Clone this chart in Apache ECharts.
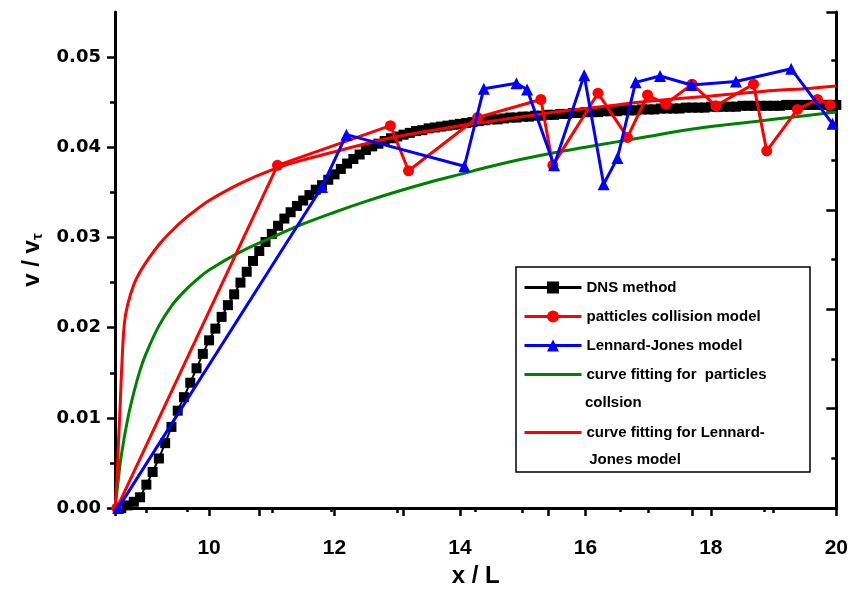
<!DOCTYPE html>
<html><head><meta charset="utf-8">
<script src="https://cdn.jsdelivr.net/npm/echarts@6/dist/echarts.min.js"></script>
<style>html,body{margin:0;padding:0;background:#fff}#c{width:851px;height:593px}</style>
</head><body><div id="c"></div>
<script>
// ---- tick values ----
const xTicks = [10, 12, 14, 16, 18, 20];
const xMinorTicks = [9, 11, 13, 15, 17, 19];
const yTicks = [0, 0.01, 0.02, 0.03, 0.04, 0.05];
const yMinorTicks = [0.005, 0.015, 0.025, 0.035, 0.045];

// ---- DNS method ----
const dnsX = [8.6,8.7,8.8,8.9,9.0,9.1,9.2,9.3,9.4,9.5,
  9.6,9.7,9.8,9.9,10.0,10.1,10.2,10.3,10.4,10.5,
  10.6,10.7,10.8,10.9,11.0,11.1,11.2,11.3,11.4,11.5,
  11.6,11.7,11.8,11.9,12.0,12.1,12.2,12.3,12.4,12.5,
  12.6,12.7,12.8,12.9,13.0,13.1,13.2,13.3,13.4,13.5,
  13.6,13.7,13.8,13.9,14.0,14.1,14.2,14.3,14.4,14.5,
  14.6,14.7,14.8,14.9,15.0,15.1,15.2,15.3,15.4,15.5,
  15.6,15.7,15.8,15.9,16.0,16.1,16.2,16.3,16.4,16.5,
  16.6,16.7,16.8,16.9,17.0,17.1,17.2,17.3,17.4,17.5,
  17.6,17.7,17.8,17.9,18.0,18.1,18.2,18.3,18.4,18.5,
  18.6,18.7,18.8,18.9,19.0,19.1,19.2,19.3,19.4,19.5,
  19.6,19.7,19.8,19.9,20.0];
const dnsY = [0.0000,0.0003,0.0007,0.0012,0.0026,0.0040,0.0055,0.0072,0.0090,0.0108,
  0.0123,0.0139,0.0155,0.0171,0.0186,0.0199,0.0212,0.0225,0.0237,0.0250,
  0.0262,0.0274,0.0285,0.0295,0.0304,0.0313,0.0321,0.0328,0.0335,0.0341,
  0.0347,0.0353,0.0358,0.0364,0.0370,0.0376,0.0382,0.0387,0.0392,0.0397,
  0.0401,0.0404,0.0407,0.0410,0.0412,0.0414,0.0416,0.0418,0.0419,0.0421,
  0.0422,0.0423,0.0424,0.0425,0.0426,0.0427,0.0428,0.0429,0.0430,0.0431,
  0.0431,0.0432,0.0433,0.0433,0.0434,0.0434,0.0435,0.0435,0.0436,0.0436,
  0.0437,0.0437,0.0438,0.0438,0.0439,0.0439,0.0439,0.0440,0.0440,0.0440,
  0.0441,0.0441,0.0441,0.0442,0.0442,0.0442,0.0443,0.0443,0.0443,0.0443,
  0.0444,0.0444,0.0444,0.0444,0.0445,0.0445,0.0445,0.0445,0.0445,0.0446,
  0.0446,0.0446,0.0446,0.0446,0.0446,0.0446,0.0447,0.0447,0.0447,0.0447,
  0.0447,0.0447,0.0447,0.0447,0.0447];

// ---- particles collision model ----
const collX = [8.53, 11.09, 12.89, 13.18, 14.28, 15.29, 15.48, 16.2, 16.67, 16.99, 17.28, 17.7, 18.08, 18.68, 18.89, 19.38, 19.7, 19.9];
const collY = [0, 0.038, 0.0424, 0.0374, 0.0433, 0.0453, 0.038, 0.046, 0.0411, 0.0458, 0.0448, 0.047, 0.0446, 0.047, 0.0396, 0.0442, 0.0453, 0.0447];

// ---- Lennard-Jones model ----
const ljX = [8.55, 11.8, 12.19, 14.07, 14.38, 14.9, 15.07, 15.5, 15.98, 16.29, 16.51, 16.8, 17.19, 17.69, 18.4, 19.28, 19.94];
const ljY = [0, 0.0356, 0.0414, 0.0379, 0.0465, 0.0471, 0.0464, 0.038, 0.048, 0.0359, 0.0388, 0.0472, 0.0479, 0.0469, 0.0473, 0.0487, 0.0426];

// ---- curve fitting for particles collision (green) ----
const fitPX = [8.5,8.52,8.55,8.6,8.7,8.8,8.9,9.0,9.2,9.4,9.6,9.8,10.0,10.5,11.0,11.5,12.0,12.5,13.0,13.5,14.0,14.5,15.0,15.5,16.0,16.5,17.0,17.5,18.0,18.5,19.0,19.5,20.0];
const fitPY = [0,0.0012,0.003,0.0058,0.0098,0.0128,0.0153,0.0172,0.0202,0.0224,0.024,0.0253,0.0264,0.0284,0.03,0.0315,0.0328,0.034,0.0351,0.0361,0.037,0.0379,0.0387,0.0394,0.04,0.0406,0.0412,0.0418,0.0423,0.0427,0.0431,0.0435,0.0439];

// ---- curve fitting for Lennard-Jones model (red) ----
const fitLX = [8.5,8.53,8.56,8.58,8.61,8.65,8.7,8.8,8.9,9.0,9.2,9.4,9.6,9.8,10.0,10.5,11.0,11.5,12.0,12.5,13.0,13.5,14.0,14.5,15.0,15.5,16.0,16.5,17.0,17.5,18.0,18.5,19.0,19.5,20.0];
const fitLY = [0,0.003,0.008,0.011,0.016,0.0205,0.0225,0.0248,0.0262,0.0273,0.0292,0.0307,0.032,0.0331,0.0341,0.036,0.0375,0.0386,0.0395,0.0404,0.0412,0.0418,0.0424,0.0429,0.0434,0.0439,0.0443,0.0447,0.0451,0.0454,0.0457,0.046,0.0463,0.0465,0.0468];

const names = ['DNS method', 'patticles collision model', 'Lennard-Jones model',
  'curve fitting for  particles collsion', 'curve fitting for Lennard-Jones model'];

const zip = (a, b) => a.map((v, i) => [v, b[i]]);

const LBL = 'Liberation Sans';
const axisLine = {show: true, lineStyle: {color: '#000', width: 3}};
const tickStyle = {color: '#000', width: 2.5};
const noSym = {color: 'rgba(0,0,0,0)', opacity: 0, borderWidth: 0};
const legText = {color: '#000', fontFamily: LBL, fontWeight: 'bold', fontSize: 15, lineHeight: 14};

const chart = echarts.init(document.getElementById('c'), null, {renderer: 'canvas'});
chart.setOption({
  backgroundColor: '#fff',
  animation: false,
  grid: {left: 115, right: 14, top: 12, bottom: 82, containLabel: false},
  xAxis: [
    {type: 'value', position: 'bottom', min: 8.5, max: 20,
     axisLine: axisLine,
     axisTick: {show: true, customValues: xTicks, length: 8, lineStyle: tickStyle},
     axisLabel: {customValues: xTicks, margin: 30, color: '#000', fontFamily: LBL, fontWeight: 'bold', fontSize: 21},
     splitLine: {show: false},
     name: 'x / L', nameLocation: 'middle', nameGap: 55,
     nameTextStyle: {color: '#000', fontFamily: LBL, fontWeight: 'bold', fontSize: 24}},
    {type: 'value', position: 'bottom', min: 8.5, max: 20,
     axisLine: {show: false},
     axisTick: {show: true, customValues: xMinorTicks, length: 5, lineStyle: tickStyle},
     axisLabel: {show: false}, splitLine: {show: false}},
    {type: 'value', position: 'top', min: 0, max: 10, interval: 2,
     axisLine: axisLine,
     axisTick: {show: true, inside: true, length: 8, lineStyle: tickStyle},
     minorTick: {show: true, splitNumber: 2, length: 4, lineStyle: tickStyle},
     axisLabel: {show: false}, splitLine: {show: false}}
  ],
  yAxis: [
    {type: 'value', position: 'left', min: 0, max: 0.055,
     axisLine: axisLine,
     axisTick: {show: true, customValues: yTicks, length: 8, lineStyle: tickStyle},
     axisLabel: {customValues: yTicks, margin: 14, formatter: v => v.toFixed(2), color: '#000', fontFamily: 'DejaVu Sans', fontWeight: 'bold', fontSize: 18},
     splitLine: {show: false},
     name: 'v / v{s|τ}', nameLocation: 'middle', nameGap: 64,
     nameTextStyle: {color: '#000', fontFamily: LBL, fontWeight: 'bold', fontSize: 24,
       rich: {s: {fontFamily: LBL, fontWeight: 'bold', fontSize: 15, color: '#000', verticalAlign: 'bottom', padding: [12, 0, 0, 0]}}}},
    {type: 'value', position: 'left', min: 0, max: 0.055,
     axisLine: {show: false},
     axisTick: {show: true, customValues: yMinorTicks, length: 5, lineStyle: tickStyle},
     axisLabel: {show: false}, splitLine: {show: false}},
    {type: 'value', position: 'right', min: 0, max: 9.98, interval: 2,
     axisLine: axisLine,
     axisTick: {show: true, inside: true, length: 10, lineStyle: tickStyle},
     minorTick: {show: true, splitNumber: 2, length: 5, lineStyle: tickStyle},
     axisLabel: {show: false}, splitLine: {show: false}}
  ],
  legend: [
    {data: [names[0], names[1], names[2], {name: names[3], itemStyle: noSym}],
     orient: 'vertical', left: 523, top: 280, padding: 0,
     itemWidth: 57, itemHeight: 15, itemGap: 14, selectedMode: false,
     lineStyle: {width: 3},
     formatter: n => n === names[3] ? 'curve fitting for  particles' : n,
     textStyle: legText},
    {data: [{name: names[4], itemStyle: noSym}], orient: 'vertical', left: 523, top: 425, padding: 0,
     itemWidth: 57, itemHeight: 15, selectedMode: false,
     lineStyle: {width: 3},
     formatter: () => 'curve fitting for Lennard-',
     textStyle: legText}
  ],
  graphic: [
    {type: 'rect', z: 3, shape: {x: 516, y: 267, width: 294, height: 205},
     style: {fill: '#fff', stroke: '#000', lineWidth: 1.5}},
    {type: 'text', z: 5, x: 585, y: 403,
     style: {text: 'collsion', fill: '#000', font: 'bold 15px "Liberation Sans"', verticalAlign: 'middle'}},
    {type: 'text', z: 5, x: 585, y: 460,
     style: {text: ' Jones model', fill: '#000', font: 'bold 15px "Liberation Sans"', verticalAlign: 'middle'}}
  ],
  series: [
    {name: names[0], type: 'line', data: zip(dnsX, dnsY), symbol: 'rect', symbolSize: 10,
     itemStyle: {color: '#000'}, lineStyle: {color: '#000', width: 2}, z: 2},
    {name: names[3], type: 'line', data: zip(fitPX, fitPY), symbol: 'none', smooth: 0.4,
     itemStyle: {color: '#008000'}, lineStyle: {color: '#008000', width: 3}, z: 3},
    {name: names[4], type: 'line', data: zip(fitLX, fitLY), symbol: 'none', smooth: 0.4,
     itemStyle: {color: '#ff0000'}, lineStyle: {color: '#ff0000', width: 3}, z: 3},
    {name: names[1], type: 'line', data: zip(collX, collY), symbol: 'circle', symbolSize: 11,
     itemStyle: {color: '#ff0000'}, lineStyle: {color: '#ff0000', width: 3}, z: 4},
    {name: names[2], type: 'line', data: zip(ljX, ljY), symbol: 'triangle', symbolSize: 12,
     itemStyle: {color: '#0000ff'}, lineStyle: {color: '#0000ff', width: 3}, z: 5}
  ]
});
</script>
</body></html>
